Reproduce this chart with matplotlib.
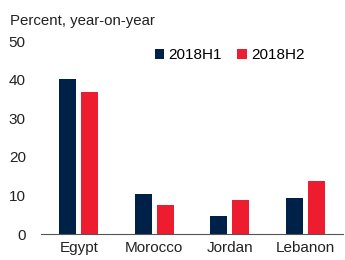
import matplotlib.pyplot as plt
import numpy as np

plt.rcParams['font.family'] = ['Liberation Sans', 'DejaVu Sans']

countries = ["Egypt", "Morocco", "Jordan", "Lebanon"]
h1 = [40.3, 10.4, 4.7, 9.3]
h2 = [36.7, 7.4, 8.8, 13.7]
series = ["2018H1", "2018H2"]

navy = "#002147"
red = "#ED1C2E"

fig = plt.figure(figsize=(3.45, 2.6), dpi=100)
ax = fig.add_axes([0.119, 0.1, 0.875, 0.742])

x = np.arange(len(countries))
w = 0.225
off = 0.146
ax.bar(x - off, h1, w, color=navy, label=series[0])
ax.bar(x + off, h2, w, color=red, label=series[1])

ax.set_xlim(-0.5, 3.5)
ax.set_ylim(0, 50)
ax.set_yticks([0, 10, 20, 30, 40, 50])
ax.set_xticks(x)
ax.set_xticklabels(countries)
ax.tick_params(axis='both', length=0, labelsize=11, colors="#222222")
ax.tick_params(axis='x', pad=5)
ax.tick_params(axis='y', pad=11)
for s in ["top", "right", "left"]:
    ax.spines[s].set_visible(False)
ax.spines["bottom"].set_color("#555555")
ax.spines["bottom"].set_linewidth(0.8)

fig.text(0.03, 0.92, "Percent, year-on-year", fontsize=10.8, color="#222222", va="center")

ax.legend(loc="upper center", bbox_to_anchor=(0.625, 0.995), ncol=2, frameon=False,
          fontsize=11, handlelength=0.6, handleheight=0.6, handletextpad=0.3,
          columnspacing=1.0, borderaxespad=0)

fig.savefig("out.png", dpi=100)
